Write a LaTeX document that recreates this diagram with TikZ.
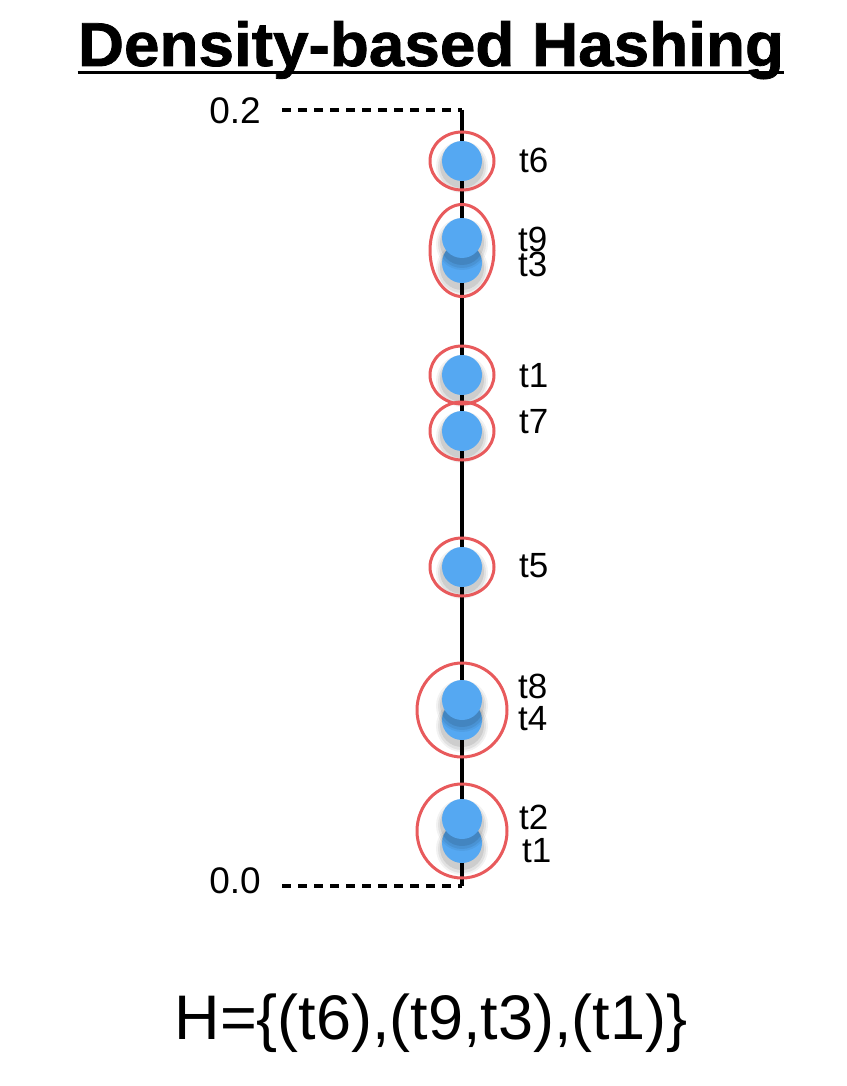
\documentclass[tikz,border=0pt]{standalone}
\usepackage{fontspec}
\setmainfont{Liberation Sans}
\newfontfamily\titlefont[FakeStretch=1.03,FakeBold=1.2]{Liberation Sans}
\definecolor{dotblue}{HTML}{55A8F2}
\definecolor{ringred}{HTML}{E85A5C}
\tikzset{
  pt/.style={circle,fill=dotblue,minimum size=40pt,inner sep=0pt},
  ring/.style={draw=ringred,line width=3pt},
  lbl/.style={anchor=base west,inner sep=0pt,font=\fontsize{35}{35}\selectfont},
  axlbl/.style={anchor=base east,inner sep=0pt,font=\fontsize{37}{37}\selectfont},
  axis/.style={line width=3.2pt,black},
  guide/.style={line width=3.5pt,black,dash pattern=on 9pt off 7pt},
}
\newcommand{\dotshadow}[1]{%
  \fill[black,opacity=0.05] ($(#1)+(0,6)$) circle (26pt);
  \fill[black,opacity=0.07] ($(#1)+(0,6)$) circle (24pt);
  \fill[black,opacity=0.09] ($(#1)+(0,5)$) circle (22pt);
}
\usetikzlibrary{calc}
\begin{document}
\begin{tikzpicture}[x=1pt,y=-1pt]
\useasboundingbox (0,0) rectangle (846,1086);
% title
\node[inner sep=0pt,anchor=base] (title) at (431,66)
  {\titlefont\bfseries\fontsize{62}{62}\selectfont Density-based Hashing};
\draw[line width=3pt] (title.base west)++(0,7) coordinate (ul1) -- (ul1 -| title.base east);
% axis
\coordinate (top) at (462,110);
\coordinate (bot) at (462,886);
\coordinate (ltop) at (282,110);
\coordinate (lbot) at (282,886);
\draw[axis] (top) -- (bot);
\draw[guide] (ltop) -- (top);
\draw[guide] (lbot) -- (bot);
\node[axlbl] (l02) at (261,124) {0.2};
\node[axlbl] (l00) at (261,893) {0.0};
% points
\foreach \n/\y in {p6/161,p3/263,p9/238,p1a/375,p7/431,p5/567,p4/720,p8/700,p1b/843,p2/819}{
  \coordinate (c\n) at (462,\y);
  \dotshadow{c\n}
  \node[pt] (\n) at (c\n) {};
}
% rings
\draw[ring] (p6) ellipse (32 and 29);
\draw[ring] ($(p9)!0.5!(p3)$) ellipse (32 and 46);
\draw[ring] (p1a) ellipse (32 and 29);
\draw[ring] (p7) ellipse (32 and 29);
\draw[ring] (p5) ellipse (32 and 29);
\draw[ring] ($(p8)!0.5!(p4)$) ellipse (45 and 47);
\draw[ring] ($(p2)!0.5!(p1b)$) ellipse (45 and 47);
% labels
\node[lbl] (t6) at (519,172) {t6};
\node[lbl] (t9) at (518,251) {t9};
\node[lbl] (t3) at (518,276) {t3};
\node[lbl] (t1a) at (519,387) {t1};
\node[lbl] (t7) at (519,433) {t7};
\node[lbl] (t5) at (519,577) {t5};
\node[lbl] (t8) at (518,698) {t8};
\node[lbl] (t4) at (518,730) {t4};
\node[lbl] (t2) at (519,829) {t2};
\node[lbl] (t1b) at (522,862) {t1};
% formula
\node[inner sep=0pt,anchor=base] (H) at (431,1039)
  {\fontsize{63}{63}\selectfont H=\{(t6),(t9,t3),(t1)\}};
\end{tikzpicture}
\end{document}
